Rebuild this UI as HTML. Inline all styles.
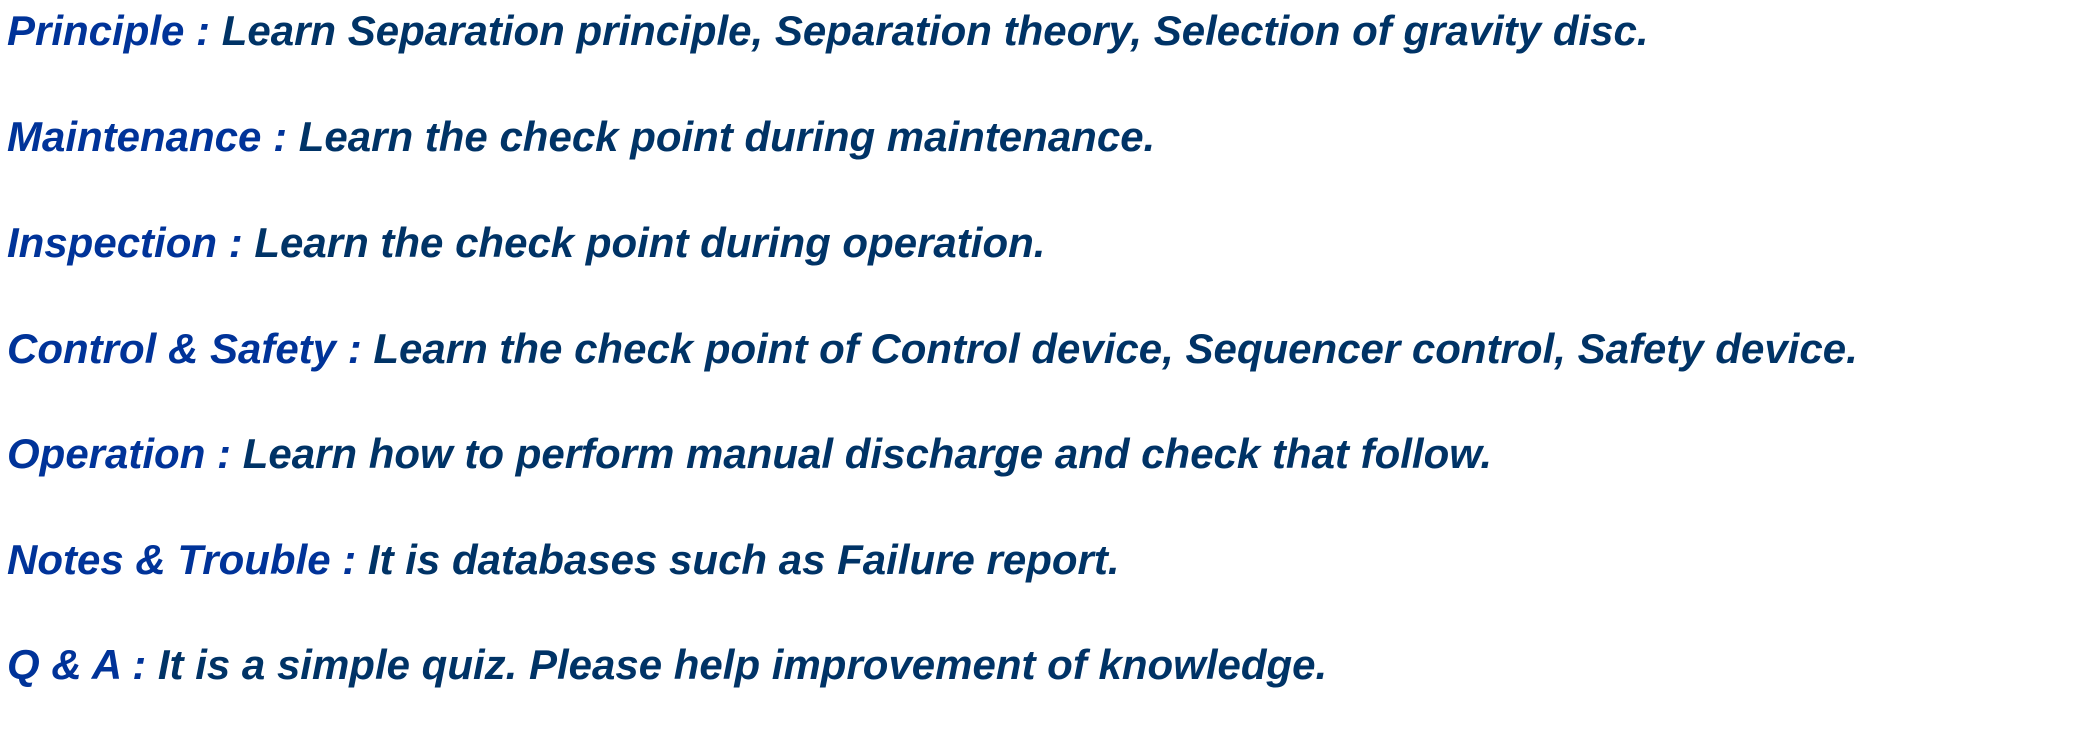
<!DOCTYPE html>
<html><head><meta charset="utf-8"><style>
html,body{margin:0;padding:0;background:#fff;width:2088px;height:746px;overflow:hidden}
.l{position:absolute;left:7px;font-family:"Liberation Sans",Arial,sans-serif;font-weight:bold;font-style:italic;font-size:42px;line-height:42px;color:#003366;white-space:nowrap}
.l b{color:#003399}
</style></head><body>
<div class="l" style="top:10px"><b>Principle : </b>Learn Separation principle, Separation theory, Selection of gravity disc.</div>
<div class="l" style="top:116px"><b>Maintenance : </b>Learn the check point during maintenance.</div>
<div class="l" style="top:222px"><b>Inspection : </b>Learn the check point during operation.</div>
<div class="l" style="top:328px"><b>Control &amp; Safety : </b>Learn the check point of Control device, Sequencer control, Safety device.</div>
<div class="l" style="top:433px"><b>Operation : </b>Learn how to perform manual discharge and check that follow.</div>
<div class="l" style="top:539px"><b>Notes &amp; Trouble : </b>It is databases such as Failure report.</div>
<div class="l" style="top:644px"><b>Q &amp; A : </b>It is a simple quiz. Please help improvement of knowledge.</div>
</body></html>
